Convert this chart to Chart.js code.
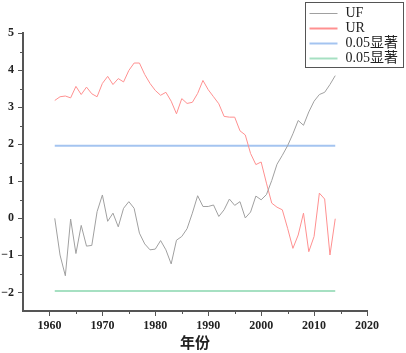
<!DOCTYPE html>
<html>
<head>
<meta charset="utf-8">
<script src="https://cdn.jsdelivr.net/npm/chart.js@4.4.1/dist/chart.umd.min.js"></script>
<style>
  html, body { margin: 0; padding: 0; background: #fff; }
</style>
</head>
<body>
<canvas id="mkChart" width="406" height="353"></canvas>
<script>
// years of the Mann-Kendall test
const years = [1961, 1962, 1963, 1964, 1965, 1966, 1967, 1968, 1969, 1970,
  1971, 1972, 1973, 1974, 1975, 1976, 1977, 1978, 1979, 1980,
  1981, 1982, 1983, 1984, 1985, 1986, 1987, 1988, 1989, 1990,
  1991, 1992, 1993, 1994, 1995, 1996, 1997, 1998, 1999, 2000,
  2001, 2002, 2003, 2004, 2005, 2006, 2007, 2008, 2009, 2010,
  2011, 2012, 2013, 2014];

const ufValues = [0.00, -0.99, -1.55, -0.02, -0.95, -0.19, -0.75, -0.73, 0.18, 0.63,
  -0.08, 0.14, -0.23, 0.27, 0.45, 0.27, -0.40, -0.69, -0.85, -0.83,
  -0.60, -0.85, -1.23, -0.59, -0.49, -0.28, 0.14, 0.61, 0.32, 0.32,
  0.36, 0.05, 0.23, 0.52, 0.35, 0.45, 0.01, 0.17, 0.60, 0.50,
  0.64, 1.02, 1.46, 1.70, 1.96, 2.28, 2.64, 2.51, 2.87, 3.16,
  3.34, 3.40, 3.61, 3.85];

const urValues = [3.18, 3.28, 3.30, 3.25, 3.56, 3.34, 3.54, 3.36, 3.28, 3.64,
  3.83, 3.61, 3.77, 3.68, 3.99, 4.19, 4.19, 3.88, 3.64, 3.45,
  3.32, 3.40, 3.16, 2.82, 3.23, 3.10, 3.13, 3.37, 3.72, 3.47,
  3.28, 3.09, 2.75, 2.73, 2.73, 2.36, 2.25, 1.75, 1.45, 1.52,
  0.95, 0.41, 0.30, 0.23, -0.27, -0.81, -0.45, 0.14, -0.90, -0.49,
  0.68, 0.52, -0.99, -0.01];

const sigUpper = [1.96, 1.96];
const sigLower = [-1.96, -1.96];
const sigYears = [1961, 2014];

const seriesLabels = ['UF', 'UR', '0.05显著', '0.05显著'];
const seriesColors = ['#a0a0a0', '#ff9090', '#a4c4f0', '#a6e0c2'];

const toPoints = (xs, ys) => xs.map((x, i) => ({ x: x, y: ys[i] }));

const axisColor = '#555';
const tickFont = { family: 'Liberation Serif', size: 12, weight: 'bold' };

// shorter minor ticks, drawn from the scales' own tick positions
const minorTicks = {
  id: 'minorTicks',
  afterDraw(chart) {
    const { ctx, scales: { x, y } } = chart;
    ctx.save();
    ctx.strokeStyle = axisColor;
    ctx.lineWidth = 1;
    ctx.beginPath();
    x.ticks.forEach(t => {
      if (t.value % 10 !== 0 && t.value !== x.min) {
        const px = Math.round(x.getPixelForValue(t.value)) + 0.5;
        ctx.moveTo(px, x.top);
        ctx.lineTo(px, x.top + 3);
      }
    });
    y.ticks.forEach(t => {
      if (!Number.isInteger(t.value) && t.value !== y.min) {
        const py = Math.round(y.getPixelForValue(t.value)) + 0.5;
        ctx.moveTo(y.right, py);
        ctx.lineTo(y.right - 3, py);
      }
    });
    ctx.stroke();
    ctx.restore();
  }
};

// boxed legend sitting over the top right corner
const boxLegend = {
  id: 'boxLegend',
  afterDraw(chart) {
    const ctx = chart.ctx;
    const left = 305.5, top = 2.5, w = 98, h = 65;
    ctx.save();
    ctx.fillStyle = '#fff';
    ctx.fillRect(left, top, w, h);
    ctx.strokeStyle = '#555';
    ctx.lineWidth = 1;
    ctx.strokeRect(left, top, w, h);
    ctx.font = '14px "Liberation Serif", "Noto Sans CJK SC"';
    ctx.textBaseline = 'middle';
    chart.data.datasets.forEach((ds, i) => {
      const rowY = Math.round(top + 10 + i * 15.3) + 0.5;
      ctx.strokeStyle = ds.borderColor;
      ctx.lineWidth = i === 0 ? 1 : 2;
      ctx.beginPath();
      ctx.moveTo(left + 4, rowY);
      ctx.lineTo(left + 32, rowY);
      ctx.stroke();
      ctx.fillStyle = '#222';
      ctx.fillText(ds.label, left + 40, rowY);
    });
    ctx.restore();
  }
};

new Chart(document.getElementById('mkChart'), {
  type: 'line',
  data: {
    datasets: [
      { label: seriesLabels[0], data: toPoints(years, ufValues), borderColor: seriesColors[0], borderWidth: 1 },
      { label: seriesLabels[1], data: toPoints(years, urValues), borderColor: seriesColors[1], borderWidth: 1 },
      { label: seriesLabels[2], data: toPoints(sigYears, sigUpper), borderColor: seriesColors[2], borderWidth: 2 },
      { label: seriesLabels[3], data: toPoints(sigYears, sigLower), borderColor: seriesColors[3], borderWidth: 2 }
    ]
  },
  options: {
    responsive: false,
    animation: false,
    devicePixelRatio: 1,
    layout: { padding: { top: 33, right: 39, bottom: 0, left: 0 } },
    elements: { point: { radius: 0 }, line: { tension: 0 } },
    plugins: { legend: { display: false }, tooltip: { enabled: false } },
    scales: {
      x: {
        type: 'linear',
        min: 1955,
        max: 2020,
        afterFit: (s) => { s.height = 42; },
        border: { display: true, color: axisColor, width: 2 },
        grid: {
          drawOnChartArea: false,
          tickLength: 5,
          tickColor: (c) => (c.tick && c.tick.value % 10 === 0 ? axisColor : 'rgba(0,0,0,0)')
        },
        ticks: {
          stepSize: 5,
          autoSkip: false,
          maxRotation: 0,
          padding: 3,
          color: '#222',
          font: tickFont,
          callback: (v) => (v % 10 === 0 ? String(v) : '')
        },
        title: {
          display: true,
          text: '年份',
          color: '#222',
          padding: { top: 0, bottom: 2 },
          font: { family: 'Noto Sans CJK SC', size: 15, weight: 'bold' }
        }
      },
      y: {
        min: -2.5,
        max: 5,
        afterFit: (s) => { s.width = 23; },
        border: { display: true, color: axisColor, width: 2 },
        grid: {
          drawOnChartArea: false,
          tickLength: 5,
          tickColor: (c) => (c.tick && Number.isInteger(c.tick.value) ? axisColor : 'rgba(0,0,0,0)')
        },
        ticks: {
          stepSize: 0.5,
          autoSkip: false,
          padding: 4,
          color: '#222',
          font: tickFont,
          callback: (v) => (Number.isInteger(v) ? (v < 0 ? '\u2212' + Math.abs(v) : String(v)) : '')
        }
      }
    }
  },
  plugins: [minorTicks, boxLegend]
});
</script>
</body>
</html>
